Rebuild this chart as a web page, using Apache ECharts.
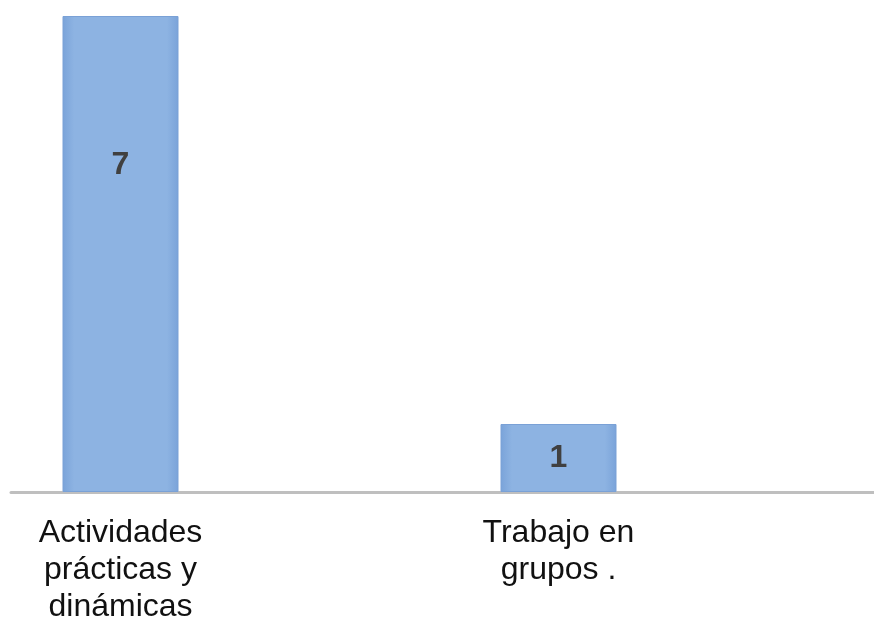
<!DOCTYPE html>
<html>
<head>
<meta charset="utf-8">
<script src="https://cdn.jsdelivr.net/npm/echarts@6/dist/echarts.min.js"></script>
<style>html,body{margin:0;padding:0;background:#fff}#c{width:874px;height:618px}</style>
</head>
<body>
<div id="c"></div>
<script>
var categories = ['Actividades\nprácticas y\ndinámicas', '', 'Trabajo en\ngrupos .', ''];
var values = [7, null, 1, null];

var chart = echarts.init(document.getElementById('c'), null, {renderer: 'canvas'});
var labelCfg = [
  {position: 'insideTop', distance: 133},
  {},
  {position: 'inside', offset: [0, 0]},
  {}
];
chart.setOption({
  animation: false,
  backgroundColor: '#ffffff',
  grid: {left: 11, width: 876, top: 16, bottom: 126, containLabel: false, outerBoundsMode: 'none'},
  xAxis: {
    type: 'category',
    data: categories,
    offset: 2,
    axisLine: {show: true, lineStyle: {color: '#bfbfbf', width: 3}},
    axisTick: {show: false},
    axisLabel: {
      interval: 0,
      margin: 21,
      fontFamily: 'Liberation Sans, Arial, sans-serif',
      fontSize: 32,
      lineHeight: 37,
      color: '#111111'
    }
  },
  yAxis: {
    type: 'value', min: 0, max: 7, show: false,
    splitLine: {show: false}
  },
  series: [{
    type: 'bar',
    barWidth: 116,
    data: values.map(function (v, i) {
      return {value: v, label: labelCfg[i]};
    }),
    itemStyle: {
      color: new echarts.graphic.LinearGradient(0, 0, 1, 0, [
        {offset: 0, color: '#7AA3D9'},
        {offset: 0.1, color: '#8DB3E2'},
        {offset: 0.9, color: '#8DB3E2'},
        {offset: 1, color: '#7AA3D9'}
      ]),
      borderColor: '#7AA1D6', borderWidth: 1
    },
    label: {
      show: true,
      fontFamily: 'Liberation Sans, Arial, sans-serif',
      fontWeight: 'bold',
      fontSize: 32,
      color: '#404040'
    }
  }]
});
</script>
</body>
</html>
